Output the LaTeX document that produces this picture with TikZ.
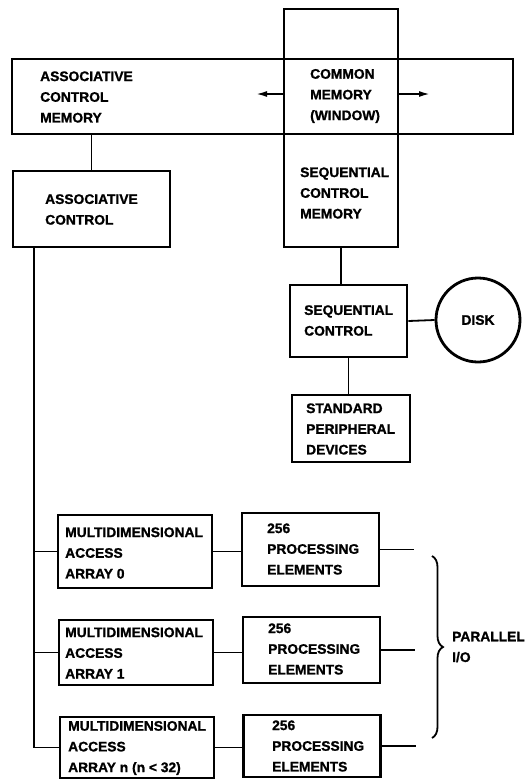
\documentclass[tikz,border=0pt]{standalone}
\usepackage{fontspec}
\setmainfont{Liberation Sans}[BoldFeatures={FakeBold=1.2}]
\usepackage{tikz}
\usetikzlibrary{calc}
\usetikzlibrary{arrows.meta}
\usetikzlibrary{decorations.pathreplacing}
\tikzset{blockbox/.style={draw=black, line width=2.8pt, inner sep=0pt}}
\tikzset{blocktext/.style={align=left, anchor=west, inner sep=0pt, font=\bfseries\fontsize{13.8}{20.7}\selectfont}}
\tikzset{wire/.style={line width=1.8pt}}

\begin{document}
\begin{tikzpicture}[x=1pt,y=-1pt]
\useasboundingbox (0,0) rectangle (529,780);

	% memories at the top
	\node[blockbox, minimum width=501pt, minimum height=75pt] (acm) at (262.5,96.5) {};
	\node[blockbox, minimum width=114pt, minimum height=238pt] (cm) at (341,128) {};
	\node[blocktext] (acmtxt) at (40,97) {ASSOCIATIVE\\CONTROL\\MEMORY};
	\node[blocktext] (cmtxt) at (310,96) {COMMON\\MEMORY\\(WINDOW)};
	\node[blocktext] (scmtxt) at (300,193) {SEQUENTIAL\\CONTROL\\MEMORY};

	\coordinate (arrl) at (256,94);
	\coordinate (arrr) at (430,94);
	\draw[wire,-{Latex[length=11pt,width=6pt]}] (arrl -| cm.west) -- (arrl);
	\draw[wire,-{Latex[length=11pt,width=6pt]}] (arrr -| cm.east) -- (arrr);

	% controls
	\node[blockbox, minimum width=157pt, minimum height=76pt] (ac) at (91.5,209) {};
	\node[blocktext] (actxt) at (45,209.5) {ASSOCIATIVE\\CONTROL};

	\node[blockbox, minimum width=117pt, minimum height=72pt] (sc) at (348.5,321) {};
	\node[blocktext] (sctxt) at (304,320.5) {SEQUENTIAL\\CONTROL};

	\node[blockbox, circle, minimum size=84pt, font=\bfseries\fontsize{13.8}{20.7}\selectfont] (disk) at (478,320) {DISK};

	\node[blockbox, minimum width=118pt, minimum height=67pt] (spd) at (351,428.5) {};
	\node[blocktext] (spdtxt) at (306,429) {STANDARD\\PERIPHERAL\\DEVICES};

	% arrays
	\node[blockbox, minimum width=154pt, minimum height=73pt] (maa0) at (135,551.5) {};
	\node[blockbox, minimum width=154pt, minimum height=65pt] (maa1) at (136,652.5) {};
	\node[blockbox, minimum width=154pt, minimum height=61pt] (maa2) at (137,747.5) {};
	\node[blocktext] (maatxt0) at (65,553) {MULTIDIMENSIONAL\\ACCESS\\ARRAY 0};
	\node[blocktext] (maatxt1) at (65,653) {MULTIDIMENSIONAL\\ACCESS\\ARRAY 1};
	\node[blocktext] (maatxt2) at (68,748) {MULTIDIMENSIONAL\\ACCESS\\ARRAY n (n < 32)};

	\node[blockbox, minimum width=137pt, minimum height=73pt] (pe0) at (310.5,549.5) {};
	\node[blockbox, minimum width=137pt, minimum height=66pt] (pe1) at (311.5,650) {};
	\node[blockbox, minimum width=137pt, minimum height=62pt] (pe2) at (312,746) {};
	\node[blocktext] (petxt0) at (267,549) {256\\PROCESSING\\ELEMENTS};
	\node[blocktext] (petxt1) at (268,649) {256\\PROCESSING\\ELEMENTS};
	\node[blocktext] (petxt2) at (272,746) {256\\PROCESSING\\ELEMENTS};

	% connections
	\draw[wire] (acm.south -| ac.north) -- (ac.north);
	\draw[wire] (cm.south) -- (cm.south |- sc.north);
	\draw[wire] (sc.east) -- (disk.west);
	\draw[wire] (sc.south) -- (sc.south |- spd.north);

	\coordinate (bus) at ($(ac.south west)+(22,0)$);
	\draw[wire] (bus) |- (maa2.west);
	\draw[wire] (maa0.west -| bus) -- (maa0.west);
	\draw[wire] (maa1.west -| bus) -- (maa1.west);

	\foreach \i in {0,1,2} {
		\coordinate (io\i) at ($(pe\i.east)+(34,0)$);
		\draw[wire] (maa\i.east) -- (maa\i.east -| pe\i.west);
		\draw[wire] (pe\i.east) -- (io\i);
	}

	% parallel i/o
	\coordinate (bt) at (432,556);
	\coordinate (bb) at (432,738);
	\draw[wire, decorate, decoration={brace, amplitude=11pt}] (bt) -- (bb);
	\node[blocktext] (pio) at (452,647) {PARALLEL\\I/O};

\end{tikzpicture}
\end{document}
